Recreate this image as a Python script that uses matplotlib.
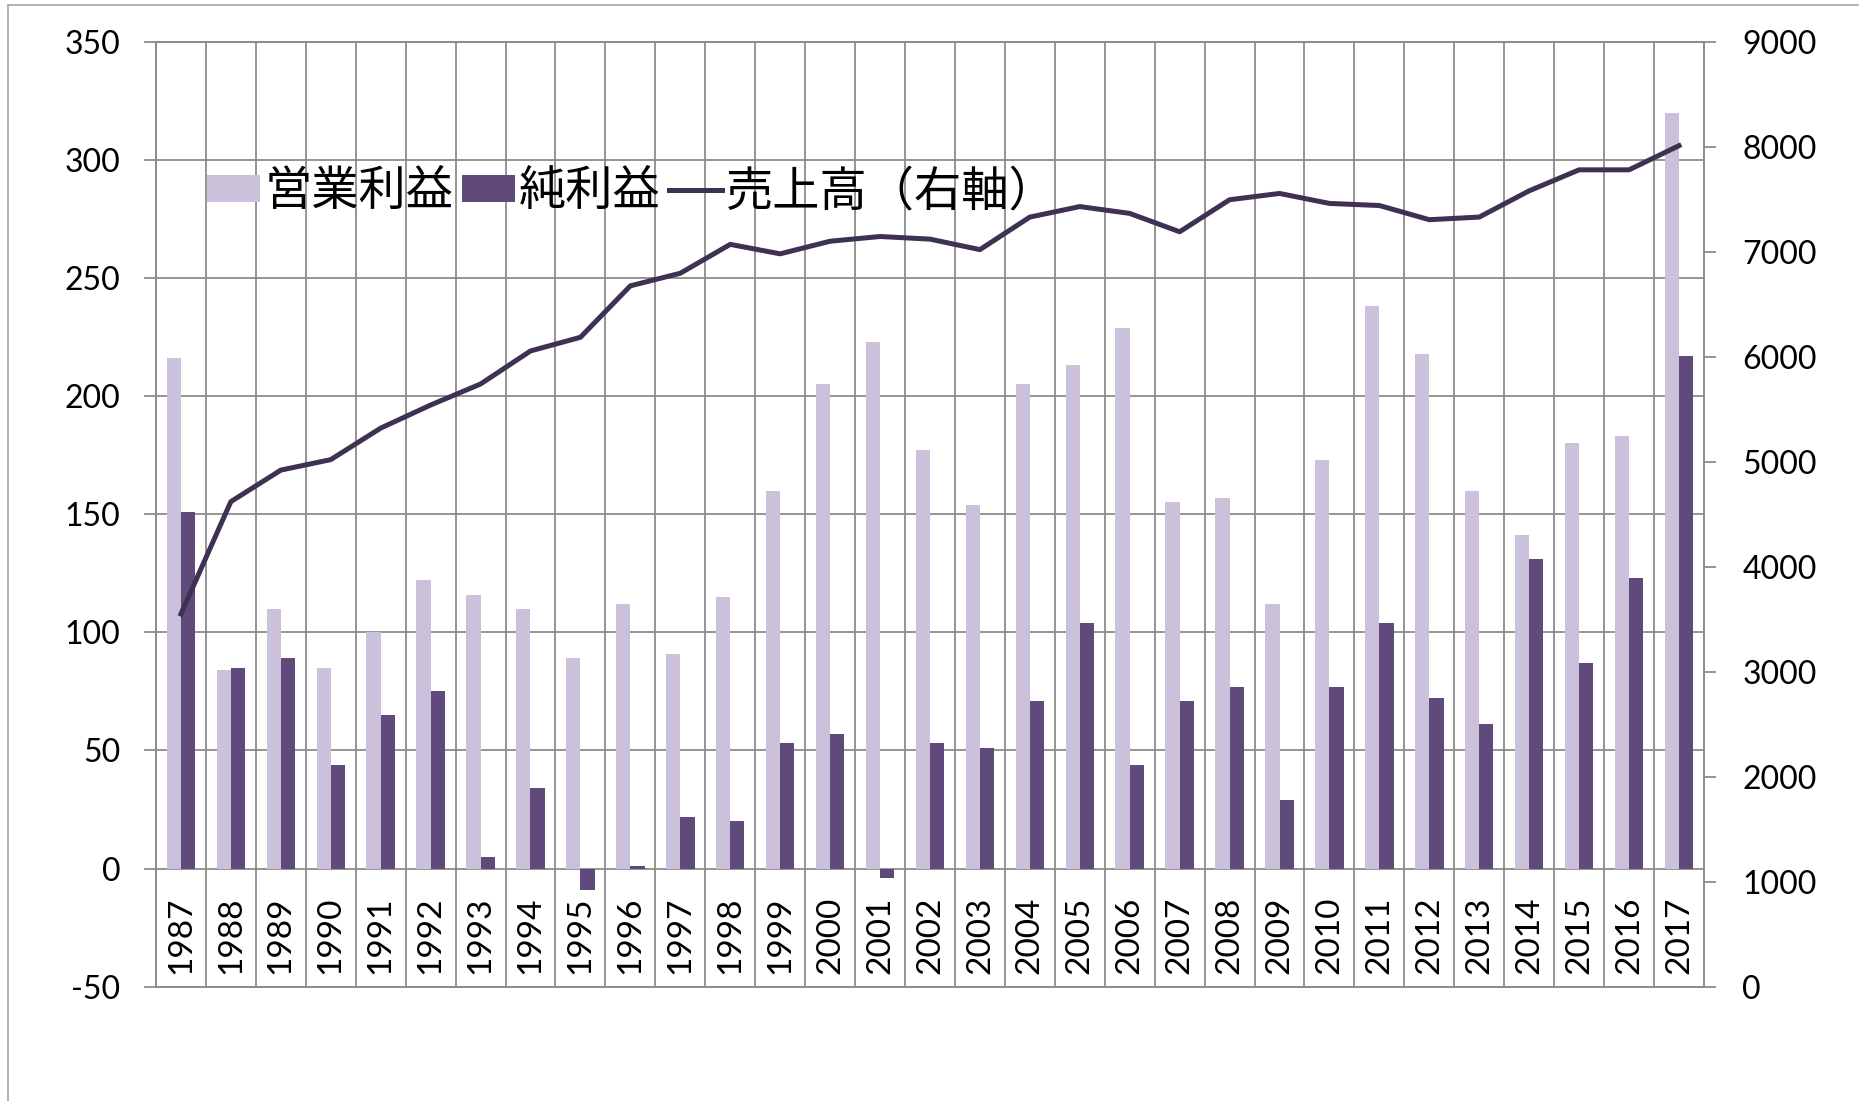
#!/usr/bin/env python
import matplotlib
matplotlib.use('Agg')
import matplotlib.pyplot as plt
from matplotlib.lines import Line2D
import numpy as np

plt.rcParams['font.family'] = ['Lato', 'Noto Sans CJK JP', 'DejaVu Sans']
plt.rcParams['axes.unicode_minus'] = False

years = ['1987', '1988', '1989', '1990', '1991', '1992', '1993', '1994', '1995', '1996',
         '1997', '1998', '1999', '2000', '2001', '2002', '2003', '2004', '2005', '2006',
         '2007', '2008', '2009', '2010', '2011', '2012', '2013', '2014', '2015', '2016', '2017']

# 営業利益 (left axis)
operating = [216, 84, 110, 85, 100, 122, 116, 110, 89, 112,
             91, 115, 160, 205, 223, 177, 154, 205, 213, 229,
             155, 157, 112, 173, 238, 218, 160, 141, 180, 183, 320]

# 純利益 (left axis)
net = [151, 85, 89, 44, 65, 75, 5, 34, -9, 1,
       22, 20, 53, 57, -4, 53, 51, 71, 104, 44,
       71, 77, 29, 77, 104, 72, 61, 131, 87, 123, 217]

# 売上高 (right axis)
sales = [3550, 4620, 4920, 5020, 5320, 5540, 5740, 6055, 6185, 6675,
         6795, 7070, 6980, 7100, 7145, 7120, 7020, 7330, 7430, 7365,
         7190, 7495, 7555, 7460, 7440, 7305, 7330, 7580, 7780, 7780, 8010]

left_ticks = [-50, 0, 50, 100, 150, 200, 250, 300, 350]
right_ticks = [0, 1000, 2000, 3000, 4000, 5000, 6000, 7000, 8000, 9000]

light = '#ccc1da'
dark = '#604a7b'
line_c = '#3f3151'
grid_c = '#8c8c8c'


def draw():
    fig = plt.figure(figsize=(18.59, 11.01), dpi=100)
    ax = fig.add_axes([0.0839, 0.1038, 0.8327, 0.8583])

    x = np.arange(len(years))
    w = 0.285
    b1 = ax.bar(x - w / 2, operating, w, color=light, label='営業利益')
    b2 = ax.bar(x + w / 2, net, w, color=dark, label='純利益')

    ax.set_xlim(-0.5, len(years) - 0.5)
    ax.set_ylim(left_ticks[0], left_ticks[-1])
    ax.set_yticks(left_ticks)
    ax.set_xticks([])
    ax.set_xticks(x[:-1] + 0.5, minor=True)
    ax.tick_params(axis='x', which='both', length=0, labelbottom=False)
    ax.grid(axis='y', color=grid_c, lw=1.3)
    ax.grid(axis='x', which='minor', color=grid_c, lw=1.3)
    ax.set_axisbelow(True)
    ax.tick_params(axis='y', direction='out', length=8.6, width=1.3,
                   color=grid_c, pad=17, labelsize=23)
    for s in ax.spines.values():
        s.set_color(grid_c)
        s.set_linewidth(1.3)

    # year labels sit in the band under the zero line
    for i, yr in enumerate(years):
        ax.annotate(yr, (i, 0), xytext=(0, -20), textcoords='offset points',
                    rotation=90, ha='center', va='top', fontsize=24)

    ax2 = ax.twinx()
    ln, = ax2.plot(x, sales, color=line_c, lw=3.6, label='売上高（右軸）')
    ax2.set_ylim(right_ticks[0], right_ticks[-1])
    ax2.set_yticks(right_ticks)
    ax2.tick_params(axis='y', direction='out', length=8.6, width=1.3,
                    color=grid_c, pad=19, labelsize=23)
    for s in ax2.spines.values():
        s.set_color(grid_c)
        s.set_linewidth(1.3)

    fig.legend([b1, b2, ln], ['営業利益', '純利益', '売上高（右軸）'],
               loc='center left', bbox_to_anchor=(0.1116, 0.8256), ncol=3,
               frameon=False, prop={'family': ['Noto Sans CJK JP'], 'size': 34},
               handlelength=1.12, handleheight=0.53, handletextpad=0.085,
               columnspacing=0.18, borderpad=0, borderaxespad=0)

    # outer chart frame (top and left edges visible)
    fig.add_artist(Line2D([0.0043, 0.0043], [0, 0.9955], color='#a6a6a6', lw=1.2,
                          transform=fig.transFigure))
    fig.add_artist(Line2D([0.0043, 1], [0.9955, 0.9955], color='#a6a6a6', lw=1.2,
                          transform=fig.transFigure))

    fig.savefig('out.png', dpi=100)


if __name__ == '__main__':
    draw()
